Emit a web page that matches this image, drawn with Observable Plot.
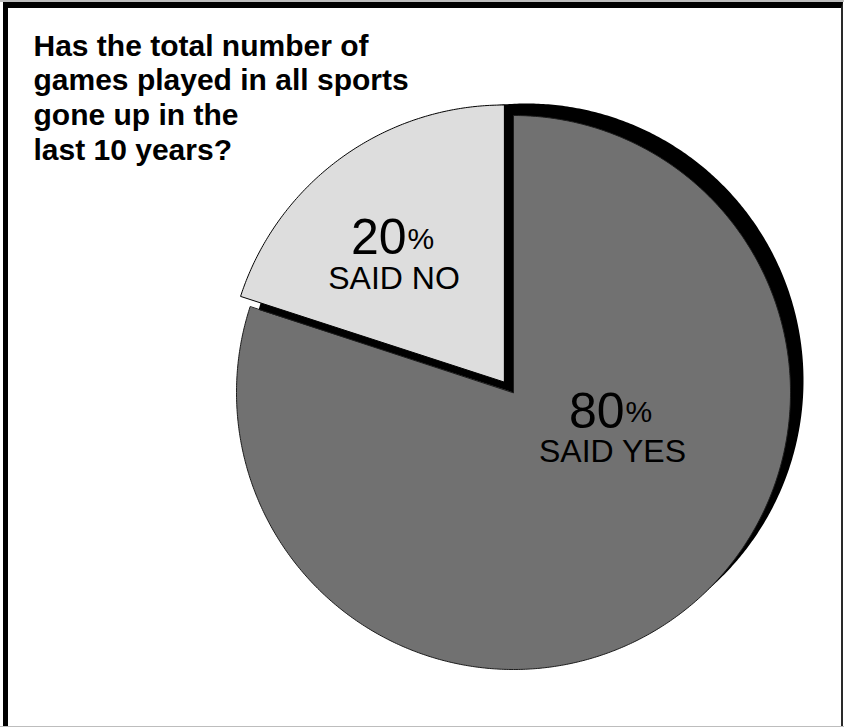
<!DOCTYPE html>
<html><head><meta charset="utf-8">
<script src="https://cdn.jsdelivr.net/npm/d3@7"></script>
<script src="https://cdn.jsdelivr.net/npm/@observablehq/plot@0.6"></script>
<style>
html,body{margin:0;padding:0;background:#fff;}
#wrap{position:relative;width:844px;height:727px;overflow:hidden;background:#fff;}
#wrap svg{display:block;}
.edge{position:absolute;box-sizing:border-box;pointer-events:none;}
</style></head><body><div id="wrap"></div>
<script>
// ---- data ----
const question = ["Has the total number of", "games played in all sports", "gone up in the", "last 10 years?"];
const answers = ["SAID YES", "SAID NO"];
const shares = [80, 20];
const sliceFills = ["#717171", "#dddddd"];

// ---- layout ----
const W = 844, H = 727;
const C = {x: 513, y: 392}, R = 277;
const shadowOffset = {x: 13, y: -12};
const explode = [{x: 0, y: 0}, {x: -9.5, y: -10.5}];
const font = "'Liberation Sans', Arial, Helvetica, sans-serif";
// label offsets relative to each slice centre: [number end x, number baseline, pct baseline, label centre x, label baseline]
const labelLayout = [
  {nx: 111, nb: 35, pb: 29, lx: 99, lb: 69},
  {nx: -97.5, nb: -128.5, pb: -133.5, lx: -110, lb: -93.5}
];

const data = answers.map((a, i) => ({answer: a, share: shares[i], fill: sliceFills[i]}));
const arcs = d3.pie().sort(null).value(d => d.share)(data);

function slicePoints(a0, a1, cx, cy, r, key) {
  const pts = [{x: cx, y: cy, key}];
  const n = Math.max(8, Math.ceil((a1 - a0) / (Math.PI / 360)));
  for (let k = 0; k <= n; k++) {
    const a = a0 + (a1 - a0) * k / n;
    pts.push({x: cx + r * Math.sin(a), y: cy - r * Math.cos(a), key});
  }
  return pts;
}

const shadow = slicePoints(arcs[0].startAngle, arcs[arcs.length - 1].endAngle,
  C.x + shadowOffset.x, C.y + shadowOffset.y, R, "shadow");
const slices = arcs.map((a, i) =>
  slicePoints(a.startAngle, a.endAngle, C.x + explode[i].x, C.y + explode[i].y, R, a.data.answer));

const numTexts = [], pctTexts = [], lblTexts = [];
arcs.forEach((a, i) => {
  const cx = C.x + explode[i].x, cy = C.y + explode[i].y, L = labelLayout[i];
  numTexts.push({x: cx + L.nx, y: cy + L.nb, t: String(a.data.share)});
  pctTexts.push({x: cx + L.nx + 1, y: cy + L.pb, t: "%"});
  lblTexts.push({x: cx + L.lx, y: cy + L.lb, t: a.data.answer});
});

const titleSize = 30, titleLH = 35 / 30;
const titleData = [{x: 33, y: 55 - 0.71 * titleLH * titleSize, t: question.join("\n")}];

const chart = Plot.plot({
  width: W, height: H, margin: 0,
  x: {domain: [0, W], axis: null},
  y: {domain: [0, H], reverse: true, axis: null},
  style: {background: "#fff"},
  marks: [
    Plot.line(shadow, {x: "x", y: "y", curve: "linear-closed", fill: "#000", stroke: "none"}),
    Plot.line(slices[0], {x: "x", y: "y", curve: "linear-closed", fill: sliceFills[0], stroke: "#1c1c1c", strokeWidth: 1}),
    Plot.line(slices[1], {x: "x", y: "y", curve: "linear-closed", fill: sliceFills[1], stroke: "#000", strokeWidth: 1}),
    Plot.text(numTexts, {x: "x", y: "y", text: "t", textAnchor: "end", lineAnchor: "bottom", fontSize: 50, fontFamily: font, fill: "#000"}),
    Plot.text(pctTexts, {x: "x", y: "y", text: "t", textAnchor: "start", lineAnchor: "bottom", fontSize: 30, fontFamily: font, fill: "#000"}),
    Plot.text(lblTexts, {x: "x", y: "y", text: "t", textAnchor: "middle", lineAnchor: "bottom", fontSize: 32, fontFamily: font, fill: "#000"}),
    Plot.text(titleData, {x: "x", y: "y", text: "t", textAnchor: "start", lineAnchor: "top", lineHeight: titleLH, fontSize: titleSize, fontWeight: "bold", fontFamily: font, fill: "#000"})
  ]
});

const wrap = document.getElementById("wrap");
wrap.appendChild(chart);
const top1 = document.createElement("div");
top1.className = "edge";
top1.style.cssText = "left:0;top:0;width:844px;height:727px;border-top:2px solid #bdbdbd;border-bottom:1px solid #bdbdbd;";
wrap.appendChild(top1);
const box = document.createElement("div");
box.className = "edge";
box.style.cssText = "left:3px;top:2px;width:840px;height:724px;border-top:6px solid #000;border-left:5px solid #000;border-right:2px solid #2a2a2a;";
wrap.appendChild(box);
</script></body></html>
